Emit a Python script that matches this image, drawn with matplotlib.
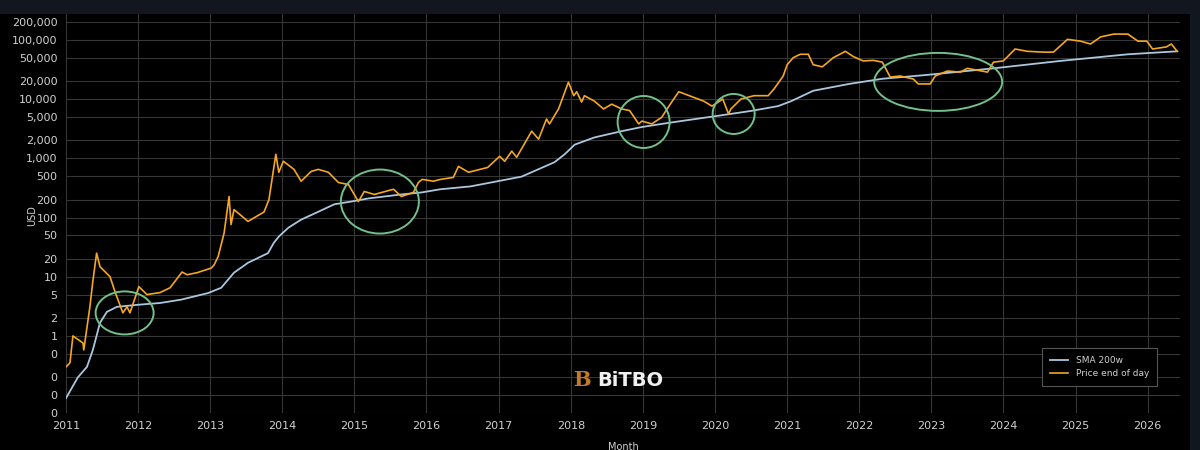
import matplotlib
matplotlib.use("Agg")
import matplotlib.pyplot as plt
import matplotlib.dates as mdates
from matplotlib.patches import Ellipse, Rectangle
import pandas as pd

# Price end of day (USD)
price_dates = [
    "2011-01-01", "2011-01-21", "2011-02-05", "2011-03-28", "2011-04-01", "2011-05-02",
    "2011-05-16", "2011-06-05", "2011-06-22", "2011-08-12", "2011-09-06", "2011-10-16",
    "2011-11-06", "2011-11-21", "2012-01-05", "2012-02-15", "2012-04-21", "2012-06-11",
    "2012-08-11", "2012-09-05", "2012-10-26", "2013-01-06", "2013-01-21", "2013-02-10",
    "2013-03-12", "2013-04-06", "2013-04-16", "2013-05-01", "2013-07-11", "2013-09-30",
    "2013-10-25", "2013-11-29", "2013-12-14", "2014-01-06", "2014-03-01", "2014-04-06",
    "2014-05-27", "2014-07-02", "2014-08-22", "2014-10-12", "2014-12-02", "2015-01-21",
    "2015-02-20", "2015-04-12", "2015-07-18", "2015-08-27", "2015-10-27", "2015-11-21",
    "2015-12-10", "2016-02-05", "2016-03-12", "2016-05-16", "2016-06-11", "2016-08-01",
    "2016-11-06", "2017-01-06", "2017-01-31", "2017-03-08", "2017-04-02", "2017-06-17",
    "2017-07-22", "2017-08-31", "2017-09-15", "2017-10-31", "2017-12-20", "2018-01-16",
    "2018-01-31", "2018-02-25", "2018-03-11", "2018-05-01", "2018-06-16", "2018-07-27",
    "2018-09-16", "2018-10-26", "2018-12-11", "2018-12-27", "2019-02-15", "2019-04-06",
    "2019-05-27", "2019-07-02", "2019-09-06", "2019-11-06", "2019-12-17", "2020-02-10",
    "2020-03-10", "2020-03-22", "2020-05-12", "2020-07-17", "2020-09-27", "2020-10-27",
    "2020-12-12", "2021-01-01", "2021-02-01", "2021-03-08", "2021-04-18", "2021-05-13",
    "2021-06-28", "2021-08-23", "2021-10-23", "2021-12-03", "2022-01-21", "2022-03-13",
    "2022-04-28", "2022-06-07", "2022-07-28", "2022-10-02", "2022-10-27", "2022-12-27",
    "2023-01-21", "2023-03-23", "2023-05-28", "2023-07-03", "2023-10-13", "2023-11-12",
    "2024-01-01", "2024-03-01", "2024-05-01", "2024-07-22", "2024-09-11", "2024-11-21",
    "2025-01-26", "2025-03-18", "2025-05-08", "2025-07-13", "2025-09-23", "2025-11-13",
    "2025-12-28", "2026-01-26", "2026-04-06", "2026-05-01", "2026-05-31",
]
price_values = [
    0.30, 0.35, 1.0, 0.76, 0.58, 3.1,
    7.9, 25, 14.8, 10, 5.6, 2.45,
    3.1, 2.45, 6.8, 5.0, 5.4, 6.5,
    12, 10.8, 11.7, 14, 16, 22,
    55, 226, 76, 136, 86, 124,
    200, 1170, 580, 890, 650, 410,
    600, 650, 580, 390, 360, 186,
    275, 245, 300, 226, 265, 390,
    440, 410, 440, 475, 730, 580,
    700, 1080, 890, 1320, 1040, 2870,
    2100, 4600, 3800, 6800, 19300, 11400,
    13300, 8900, 11400, 9200, 6800, 8200,
    6800, 6400, 3800, 4250, 3800, 4900,
    8900, 13300, 11000, 9200, 7600, 10000,
    5600, 6800, 10000, 11400, 11400, 14900,
    24500, 38000, 50000, 57000, 57000, 38000,
    35000, 50000, 64000, 52000, 44000, 45000,
    42000, 23500, 24500, 21800, 18000, 18000,
    24500, 29700, 28500, 33000, 28500, 42000,
    44000, 70000, 64000, 62000, 62000, 102000,
    95000, 85000, 112000, 125000, 125000, 95000,
    95000, 70000, 76000, 85000, 64000,
]

# 200 week simple moving average
sma_dates = [
    "2011-01-01", "2011-03-02", "2011-04-17", "2011-05-17", "2011-06-22", "2011-07-27",
    "2011-09-16", "2011-12-27", "2012-04-21", "2012-08-06", "2012-12-21", "2013-02-25",
    "2013-05-01", "2013-07-11", "2013-10-20", "2013-11-19", "2013-12-15", "2014-01-31",
    "2014-04-06", "2014-07-02", "2014-09-21", "2014-12-16", "2015-03-13", "2015-08-27",
    "2015-12-07", "2016-03-12", "2016-08-11", "2017-04-27", "2017-10-11", "2017-12-01",
    "2018-01-21", "2018-05-01", "2018-09-16", "2018-12-27", "2019-04-06", "2019-06-11",
    "2019-12-27", "2020-07-02", "2020-11-16", "2021-01-21", "2021-05-13", "2021-11-11",
    "2022-04-28", "2022-12-07", "2023-11-12", "2024-10-15", "2025-09-23", "2026-05-31",
]
sma_values = [
    0.089, 0.20, 0.30, 0.58, 1.66, 2.55,
    3.1, 3.35, 3.6, 4.1, 5.3, 6.5,
    11.7, 17.2, 25, 37.5, 48, 67,
    92, 125, 167, 186, 210, 245,
    265, 300, 335, 490, 860, 1170,
    1700, 2250, 2870, 3370, 3800, 4100,
    5100, 6300, 7600, 9200, 13800, 18000,
    22000, 25500, 33000, 44000, 57000, 64000,
]

# highlighted zones: centre date, centre price, size in pixels (w, h)
zone_dates = ["2011-10-25", "2015-05-10", "2019-01-05", "2020-04-05", "2023-02-05"]
zone_prices = [2.45, 186, 4100, 5600, 19500]
zone_sizes = [(58, 43), (78, 64), (52, 52), (42, 40), (128, 58)]

ytick_values = [0.05, 0.1, 0.2, 0.5, 1, 2, 5, 10, 20, 50, 100, 200, 500,
                1000, 2000, 5000, 10000, 20000, 50000, 100000, 200000]
ytick_labels = ["0", "0", "0", "0", "1", "2", "5", "10", "20", "50", "100", "200", "500",
                "1,000", "2,000", "5,000", "10,000", "20,000", "50,000", "100,000", "200,000"]
years = list(range(2011, 2027))

ORANGE = "#f5a623"
BLUE = "#a9c8e0"
GREEN = "#72c08a"
GRID = "#363636"
NAVY = "#12161f"
TEXT = "#d0d0d0"

fig = plt.figure(figsize=(12, 4.5), dpi=100, facecolor="black")
ax = fig.add_axes([66 / 1200, 1 - 413 / 450, 1114 / 1200, 399 / 450])
ax.set_facecolor("black")

# dark frame strips of the page
fig.add_artist(Rectangle((0, 1 - 14 / 450), 1, 14 / 450, transform=fig.transFigure,
                         facecolor=NAVY, edgecolor="none", zorder=-5))
fig.add_artist(Rectangle((1190 / 1200, 0), 10 / 1200, 1, transform=fig.transFigure,
                         facecolor=NAVY, edgecolor="none", zorder=-5))

ax.plot(pd.to_datetime(sma_dates), sma_values, color=BLUE, lw=1.3, label="SMA 200w", zorder=3)
ax.plot(pd.to_datetime(price_dates), price_values, color=ORANGE, lw=1.2,
        label="Price end of day", zorder=4)

ax.set_yscale("log")
ax.set_ylim(0.05, 273000)
ax.set_xlim(pd.Timestamp("2011-01-01"), pd.Timestamp("2026-06-14"))

ax.set_yticks(ytick_values)
ax.set_yticklabels(ytick_labels)
ax.yaxis.set_minor_locator(matplotlib.ticker.NullLocator())
ax.set_xticks([pd.Timestamp(f"{y}-01-01") for y in years])
ax.set_xticklabels([str(y) for y in years])

ax.grid(True, color=GRID, lw=0.8)
ax.tick_params(colors=TEXT, labelsize=8, length=0, pad=6)
for s in ax.spines.values():
    s.set_visible(False)

ax.set_ylabel("USD", color=TEXT, fontsize=7)
ax.yaxis.set_label_coords(-0.026, 0.496)
ax.set_xlabel("Month", color=TEXT, fontsize=7, labelpad=8)

# green circles around the SMA touches
fig.canvas.draw()
for d, p, (w, h) in zip(zone_dates, zone_prices, zone_sizes):
    cx, cy = ax.transData.transform((mdates.date2num(pd.Timestamp(d)), p))
    ax.add_artist(Ellipse((cx, cy), w, h, transform=None, fill=False,
                          edgecolor=GREEN, lw=1.4, zorder=5))

# watermark
ax.text(0.4635, 0.082, "B", transform=ax.transAxes, color="#c07a2a", fontsize=15,
        fontweight="bold", ha="center", va="center", family="DejaVu Serif")
ax.text(0.477, 0.082, "BiTBO", transform=ax.transAxes, color="#f0f0f0", fontsize=14,
        fontweight="bold", ha="left", va="center")

leg = ax.legend(loc="lower right", bbox_to_anchor=(0.981, 0.062), fontsize=6.5,
                facecolor="black", edgecolor="#555555", labelcolor=TEXT,
                handlelength=2.0, borderpad=0.6, framealpha=1)
leg.get_frame().set_linewidth(0.8)
leg.get_frame().set_boxstyle("square")

fig.savefig("out.png", dpi=100, facecolor="black")
